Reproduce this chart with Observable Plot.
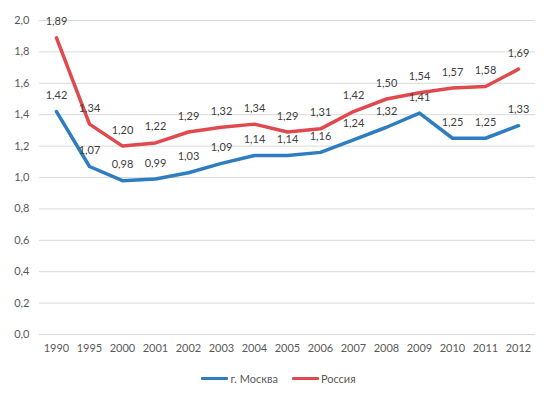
<!DOCTYPE html>
<html><head><meta charset="utf-8">
<script src="https://cdn.jsdelivr.net/npm/d3@7"></script>
<script src="https://cdn.jsdelivr.net/npm/@observablehq/plot@0.6"></script>
<style>
body{margin:0;background:#fff;font-family:Lato,"Open Sans",sans-serif;}
#legend{display:flex;justify-content:center;gap:14px;font-size:11px;color:#595959;margin-top:6px;padding-left:10px}
#legend span{display:inline-flex;align-items:center}
#legend i{display:inline-block;width:27px;height:3px;margin-right:2px;border-radius:1px}
</style></head><body>
<div id="chart"></div>
<div id="legend"></div>
<script>
const years = ["1990","1995","2000","2001","2002","2003","2004","2005","2006","2007","2008","2009","2010","2011","2012"];
const moscow = [1.42,1.07,0.98,0.99,1.03,1.09,1.14,1.14,1.16,1.24,1.32,1.41,1.25,1.25,1.33];
const russia = [1.89,1.34,1.20,1.22,1.29,1.32,1.34,1.29,1.31,1.42,1.50,1.54,1.57,1.58,1.69];
const seriesNames = ["г. Москва","Россия"];
const colors = ["#2e7dc0","#e04a4f"];
const yTicks = [0,0.2,0.4,0.6,0.8,1.0,1.2,1.4,1.6,1.8,2.0];

const data = [];
years.forEach((y,i)=>{data.push({year:y,value:moscow[i],s:seriesNames[0]});data.push({year:y,value:russia[i],s:seriesNames[1]});});
const fmt = d => d.toFixed(2).replace(".",",");
const fmt1 = d => d.toFixed(1).replace(".",",");

const chart = Plot.plot({
  width:547, height:366,
  marginLeft:39, marginRight:12, marginTop:20, marginBottom:32,
  style:{fontFamily:"Lato, 'Open Sans', sans-serif", fontSize:"11px", color:"#595959", background:"#fff"},
  x:{type:"point", domain:years, padding:0.5, label:null, tickSize:0, tickPadding:10},
  y:{domain:[0,2], ticks:yTicks, tickFormat:fmt1, label:null, tickSize:0, tickPadding:10},
  color:{domain:seriesNames, range:colors},
  marks:[
    Plot.gridY(yTicks,{stroke:"#d9d9d9", strokeOpacity:1, strokeWidth:1}),
    Plot.axisY({ticks:yTicks, tickFormat:fmt1, tickSize:0, tickPadding:10, fill:"#595959"}),
    Plot.axisX({tickSize:0, tickPadding:10, fill:"#595959"}),
    Plot.lineY(data,{x:"year", y:"value", stroke:"s", strokeWidth:3.5, strokeLinejoin:"round"}),
    Plot.text(data,{x:"year", y:"value", text:d=>fmt(d.value), dy:-16, fill:"#404040", fontSize:11})
  ]
});
document.getElementById("chart").appendChild(chart);
const lg = document.getElementById("legend");
seriesNames.forEach((n,i)=>{const s=document.createElement("span");s.innerHTML=`<i style="background:${colors[i]}"></i>${n}`;lg.appendChild(s);});
</script>
</body></html>
